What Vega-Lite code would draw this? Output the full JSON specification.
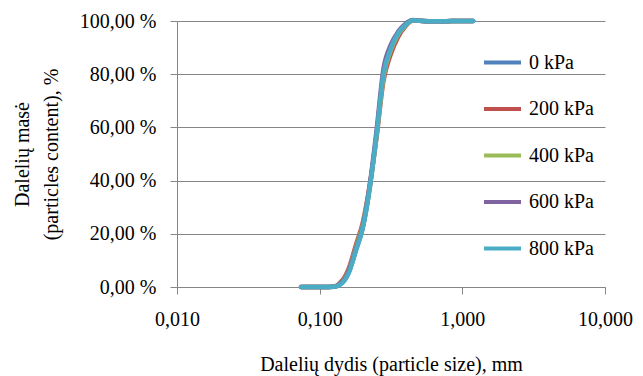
{
  "$schema": "https://vega.github.io/schema/vega-lite/v6.json",
  "width": 428,
  "height": 266,
  "autosize": {"type": "none"},
  "padding": {"left": 177, "top": 21, "right": 38, "bottom": 89},
  "background": "white",
  "config": {
    "view": {"stroke": null},
    "font": "Times New Roman, Liberation Serif, DejaVu Serif, serif"
  },
  "data": {
    "values": [
      {"s": "0 kPa", "d": 0.074, "p": 0}, {"s": "0 kPa", "d": 0.09, "p": 0}, {"s": "0 kPa", "d": 0.106, "p": 0}, {"s": "0 kPa", "d": 0.125, "p": 0.1}, {"s": "0 kPa", "d": 0.132, "p": 0.3}, {"s": "0 kPa", "d": 0.14, "p": 1.2}, {"s": "0 kPa", "d": 0.15, "p": 2.8}, {"s": "0 kPa", "d": 0.16, "p": 5.6}, {"s": "0 kPa", "d": 0.18, "p": 14}, {"s": "0 kPa", "d": 0.2, "p": 22}, {"s": "0 kPa", "d": 0.224, "p": 37}, {"s": "0 kPa", "d": 0.25, "p": 57}, {"s": "0 kPa", "d": 0.28, "p": 80}, {"s": "0 kPa", "d": 0.315, "p": 89.5}, {"s": "0 kPa", "d": 0.355, "p": 95.2}, {"s": "0 kPa", "d": 0.4, "p": 98.5}, {"s": "0 kPa", "d": 0.45, "p": 100.3}, {"s": "0 kPa", "d": 0.5, "p": 100.1}, {"s": "0 kPa", "d": 0.6, "p": 99.9}, {"s": "0 kPa", "d": 0.71, "p": 99.9}, {"s": "0 kPa", "d": 0.85, "p": 100}, {"s": "0 kPa", "d": 1.0, "p": 100}, {"s": "0 kPa", "d": 1.19, "p": 100},
      {"s": "200 kPa", "d": 0.074, "p": 0}, {"s": "200 kPa", "d": 0.09, "p": 0}, {"s": "200 kPa", "d": 0.106, "p": 0}, {"s": "200 kPa", "d": 0.125, "p": 0.2}, {"s": "200 kPa", "d": 0.132, "p": 0.6}, {"s": "200 kPa", "d": 0.14, "p": 1.8}, {"s": "200 kPa", "d": 0.15, "p": 3.8}, {"s": "200 kPa", "d": 0.16, "p": 7}, {"s": "200 kPa", "d": 0.18, "p": 16}, {"s": "200 kPa", "d": 0.2, "p": 24}, {"s": "200 kPa", "d": 0.224, "p": 38}, {"s": "200 kPa", "d": 0.25, "p": 56}, {"s": "200 kPa", "d": 0.28, "p": 77.5}, {"s": "200 kPa", "d": 0.315, "p": 87.5}, {"s": "200 kPa", "d": 0.355, "p": 94}, {"s": "200 kPa", "d": 0.4, "p": 98}, {"s": "200 kPa", "d": 0.45, "p": 100.2}, {"s": "200 kPa", "d": 0.5, "p": 100.1}, {"s": "200 kPa", "d": 0.6, "p": 99.9}, {"s": "200 kPa", "d": 0.71, "p": 99.9}, {"s": "200 kPa", "d": 0.85, "p": 100}, {"s": "200 kPa", "d": 1.0, "p": 100}, {"s": "200 kPa", "d": 1.19, "p": 100},
      {"s": "400 kPa", "d": 0.074, "p": 0}, {"s": "400 kPa", "d": 0.09, "p": 0}, {"s": "400 kPa", "d": 0.106, "p": 0}, {"s": "400 kPa", "d": 0.125, "p": 0.1}, {"s": "400 kPa", "d": 0.132, "p": 0.4}, {"s": "400 kPa", "d": 0.14, "p": 1.5}, {"s": "400 kPa", "d": 0.15, "p": 3.2}, {"s": "400 kPa", "d": 0.16, "p": 6.2}, {"s": "400 kPa", "d": 0.18, "p": 15}, {"s": "400 kPa", "d": 0.2, "p": 23}, {"s": "400 kPa", "d": 0.224, "p": 37.5}, {"s": "400 kPa", "d": 0.25, "p": 56.5}, {"s": "400 kPa", "d": 0.28, "p": 79}, {"s": "400 kPa", "d": 0.315, "p": 89}, {"s": "400 kPa", "d": 0.355, "p": 95}, {"s": "400 kPa", "d": 0.4, "p": 98.4}, {"s": "400 kPa", "d": 0.45, "p": 100.3}, {"s": "400 kPa", "d": 0.5, "p": 100.1}, {"s": "400 kPa", "d": 0.6, "p": 99.9}, {"s": "400 kPa", "d": 0.71, "p": 99.9}, {"s": "400 kPa", "d": 0.85, "p": 100}, {"s": "400 kPa", "d": 1.0, "p": 100}, {"s": "400 kPa", "d": 1.19, "p": 100},
      {"s": "600 kPa", "d": 0.074, "p": 0}, {"s": "600 kPa", "d": 0.09, "p": 0}, {"s": "600 kPa", "d": 0.106, "p": 0}, {"s": "600 kPa", "d": 0.125, "p": 0.1}, {"s": "600 kPa", "d": 0.132, "p": 0.4}, {"s": "600 kPa", "d": 0.14, "p": 1.4}, {"s": "600 kPa", "d": 0.15, "p": 3}, {"s": "600 kPa", "d": 0.16, "p": 6}, {"s": "600 kPa", "d": 0.18, "p": 14.5}, {"s": "600 kPa", "d": 0.2, "p": 22.5}, {"s": "600 kPa", "d": 0.224, "p": 38}, {"s": "600 kPa", "d": 0.25, "p": 58.5}, {"s": "600 kPa", "d": 0.28, "p": 82}, {"s": "600 kPa", "d": 0.315, "p": 91}, {"s": "600 kPa", "d": 0.355, "p": 96}, {"s": "600 kPa", "d": 0.4, "p": 99}, {"s": "600 kPa", "d": 0.45, "p": 100.4}, {"s": "600 kPa", "d": 0.5, "p": 100.1}, {"s": "600 kPa", "d": 0.6, "p": 99.9}, {"s": "600 kPa", "d": 0.71, "p": 99.9}, {"s": "600 kPa", "d": 0.85, "p": 100}, {"s": "600 kPa", "d": 1.0, "p": 100}, {"s": "600 kPa", "d": 1.19, "p": 100},
      {"s": "800 kPa", "d": 0.074, "p": 0}, {"s": "800 kPa", "d": 0.09, "p": 0}, {"s": "800 kPa", "d": 0.106, "p": 0}, {"s": "800 kPa", "d": 0.125, "p": 0.1}, {"s": "800 kPa", "d": 0.132, "p": 0.3}, {"s": "800 kPa", "d": 0.14, "p": 1}, {"s": "800 kPa", "d": 0.15, "p": 2.6}, {"s": "800 kPa", "d": 0.16, "p": 5.3}, {"s": "800 kPa", "d": 0.18, "p": 13.9}, {"s": "800 kPa", "d": 0.2, "p": 22}, {"s": "800 kPa", "d": 0.224, "p": 37}, {"s": "800 kPa", "d": 0.25, "p": 57}, {"s": "800 kPa", "d": 0.28, "p": 80}, {"s": "800 kPa", "d": 0.315, "p": 89.7}, {"s": "800 kPa", "d": 0.355, "p": 95.4}, {"s": "800 kPa", "d": 0.4, "p": 98.5}, {"s": "800 kPa", "d": 0.45, "p": 100.3}, {"s": "800 kPa", "d": 0.5, "p": 100.1}, {"s": "800 kPa", "d": 0.6, "p": 99.9}, {"s": "800 kPa", "d": 0.71, "p": 99.9}, {"s": "800 kPa", "d": 0.85, "p": 100}, {"s": "800 kPa", "d": 1.0, "p": 100}, {"s": "800 kPa", "d": 1.19, "p": 100}
    ]
  },
  "mark": {"type": "line", "interpolate": "monotone", "strokeWidth": 4.5, "strokeCap": "round", "strokeJoin": "round"},
  "encoding": {
    "x": {
      "field": "d", "type": "quantitative",
      "scale": {"type": "log", "domain": [0.01, 10], "nice": false},
      "axis": {
        "values": [0.01, 0.1, 1, 10],
        "grid": false,
        "domainColor": "#868686",
        "tickColor": "#868686",
        "tickSize": 7,
        "labelFontSize": 20,
        "labelColor": "black",
        "labelBaseline": "alphabetic",
        "labelPadding": 31,
        "labelExpr": "replace(format(datum.value, '.3f'), '.', ',')",
        "labelFlush": false,
        "title": "Dalelių dydis (particle size), mm",
        "titleFontSize": 20,
        "titleFontWeight": "normal",
        "titleColor": "black",
        "titleBaseline": "alphabetic",
        "titleY": 83
      }
    },
    "y": {
      "field": "p", "type": "quantitative",
      "scale": {"domain": [0, 100], "nice": false, "zero": true},
      "axis": {
        "values": [0, 20, 40, 60, 80, 100],
        "grid": true,
        "gridColor": "#868686",
        "domainColor": "#868686",
        "tickColor": "#868686",
        "tickSize": 7,
        "labelFontSize": 20,
        "labelColor": "black",
        "labelPadding": 14,
        "labelExpr": "replace(format(datum.value, '.2f'), '.', ',') + ' %'",
        "labelFlush": false,
        "title": ["Dalelių masė", "(particles content), %"],
        "titleFontSize": 20,
        "titleFontWeight": "normal",
        "titleColor": "black",
        "titleLineHeight": 29,
        "titleAngle": -90,
        "titleAlign": "center",
        "titleBaseline": "bottom",
        "titleX": -145,
        "titleY": 133
      }
    },
    "color": {
      "field": "s", "type": "nominal",
      "scale": {"domain": ["0 kPa", "200 kPa", "400 kPa", "600 kPa", "800 kPa"], "range": ["#4F81BD", "#C0504D", "#9BBB59", "#8064A2", "#4BACC6"]},
      "legend": {
        "title": null,
        "orient": "none",
        "legendX": 305,
        "legendY": 21,
        "symbolType": "stroke",
        "symbolSize": 1369,
        "symbolStrokeWidth": 4,
        "labelFontSize": 20,
        "labelColor": "black",
        "labelOffset": 6,
        "rowPadding": 15.5,
        "padding": 0
      }
    },
    "order": {"field": "d", "type": "quantitative"}
  }
}
